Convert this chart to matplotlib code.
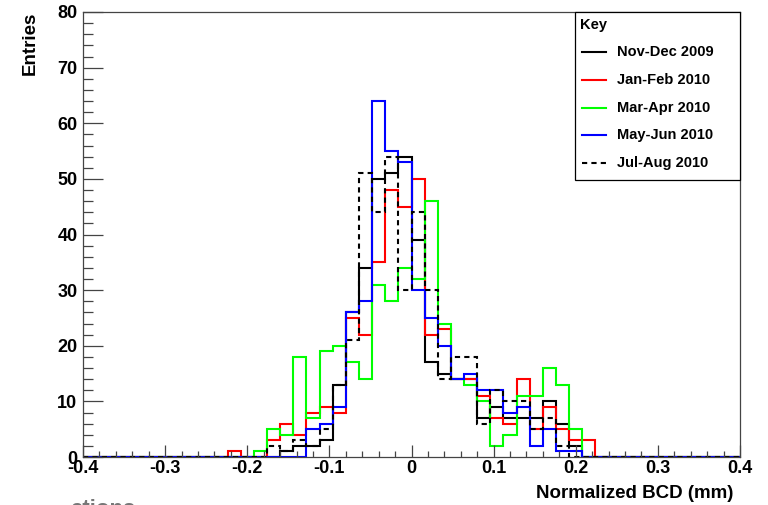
import numpy as np
import matplotlib

matplotlib.use("Agg")
import matplotlib.pyplot as plt
from matplotlib.lines import Line2D
from matplotlib.patches import Rectangle
from matplotlib.ticker import MultipleLocator

plt.rcParams["font.family"] = ["Liberation Sans", "DejaVu Sans"]
plt.rcParams["font.weight"] = "bold"

# 50 bins of width 0.016 over [-0.4, 0.4]; counts below start at bin 11
n_bins = 50
first_bin = 11

nov_dec_2009 = [0, 0, 0, 0, 1, 2, 2, 3, 13, 26, 34, 50, 51, 54, 39, 17, 15, 14,
                14, 7, 9, 7, 7, 7, 10, 6, 2, 0]
jan_feb_2010 = [1, 0, 0, 3, 6, 4, 8, 9, 8, 25, 22, 35, 48, 45, 50, 22, 23, 14,
                14, 11, 7, 6, 14, 5, 9, 5, 3, 3]
mar_apr_2010 = [0, 0, 1, 5, 4, 18, 7, 19, 20, 17, 14, 31, 28, 34, 32, 46, 24, 14,
                13, 10, 2, 4, 11, 11, 16, 13, 5, 0]
may_jun_2010 = [0, 0, 0, 0, 0, 0, 5, 6, 9, 26, 28, 64, 55, 53, 30, 25, 20, 14,
                15, 12, 12, 8, 9, 2, 5, 1, 1, 0]
jul_aug_2010 = [0, 0, 0, 2, 1, 3, 2, 5, 13, 21, 51, 44, 54, 30, 44, 30, 14, 18,
                18, 6, 12, 10, 10, 5, 7, 2, 0, 0]

labels = ["Nov-Dec 2009", "Jan-Feb 2010", "Mar-Apr 2010", "May-Jun 2010", "Jul-Aug 2010"]
series = [nov_dec_2009, jan_feb_2010, mar_apr_2010, may_jun_2010, jul_aug_2010]
colors = ["black", "#ff0000", "#00ff00", "#0000ff", "black"]
styles = ["-", "-", "-", "-", (0, (2.5, 2))]

W, H = 768, 505
fig = plt.figure(figsize=(W / 100, H / 100), dpi=100)
ax = fig.add_axes([83 / W, (H - 457) / H, (740 - 83) / W, (457 - 12) / H])

edges = np.linspace(-0.4, 0.4, n_bins + 1)


def full_counts(vals):
    counts = np.zeros(n_bins)
    counts[first_bin:first_bin + len(vals)] = vals
    return counts


for vals, c, ls in zip(series, colors, styles):
    ax.stairs(full_counts(vals), edges, color=c, lw=1.5, linestyle=ls, baseline=None)

ax.set_xlim(-0.4, 0.4)
ax.set_ylim(0, 80)
ax.xaxis.set_major_locator(MultipleLocator(0.1))
ax.xaxis.set_minor_locator(MultipleLocator(0.02))
ax.yaxis.set_major_locator(MultipleLocator(10))
ax.yaxis.set_minor_locator(MultipleLocator(2))
ax.set_xticklabels([f"{v:g}" for v in ax.get_xticks()])
ax.tick_params(axis="both", which="both", direction="in", top=False, right=False,
               width=0.9, labelsize=13, color="#444444")
ax.tick_params(axis="y", which="major", length=14.5, pad=4)
ax.tick_params(axis="y", which="minor", length=7.2)
ax.tick_params(axis="x", which="major", length=9, pad=2)
ax.tick_params(axis="x", which="minor", length=4.5)
for lab in ax.get_xticklabels() + ax.get_yticklabels():
    lab.set_fontweight("bold")
for sp in ax.spines.values():
    sp.set_linewidth(0.9)
    sp.set_color("#444444")

fig.text(30 / W, 1 - 12 / H, "Entries", rotation=90, ha="center", va="top",
         fontsize=13.5, fontweight="bold")
fig.text(733 / W, 1 - 493 / H, "Normalized BCD (mm)", ha="right", va="center",
         fontsize=13.5, fontweight="bold")
fig.text(70 / W, 1 - 499 / H, "ations", ha="left", va="top",
         fontsize=16, color="#777777")

# legend box in the top-right corner of the frame
px = fig.transFigure.inverted()
def fxy(x, y):
    return x / W, 1 - y / H

x0, y0 = fxy(575, 180)
x1, y1 = fxy(740, 12)
fig.patches.append(Rectangle((x0, y0), x1 - x0, y1 - y0, transform=fig.transFigure,
                             facecolor="white", edgecolor="black", lw=0.9, zorder=5))
tx, ty = fxy(580, 25)
fig.text(tx, ty, "Key", ha="left", va="center", fontsize=10.5, fontweight="bold", zorder=6)
for i, (lab, c, ls) in enumerate(zip(labels, colors, styles)):
    yc = 52 + i * 27.8
    lx0, ly = fxy(582, yc)
    lx1, _ = fxy(606, yc)
    fig.lines.append(Line2D([lx0, lx1], [ly, ly], transform=fig.transFigure,
                            color=c, lw=1.5, linestyle=ls, zorder=6))
    tx, _ = fxy(617, yc)
    fig.text(tx, ly, lab, ha="left", va="center", fontsize=10.5, fontweight="bold", zorder=6)

fig.savefig("out.png", dpi=100)
